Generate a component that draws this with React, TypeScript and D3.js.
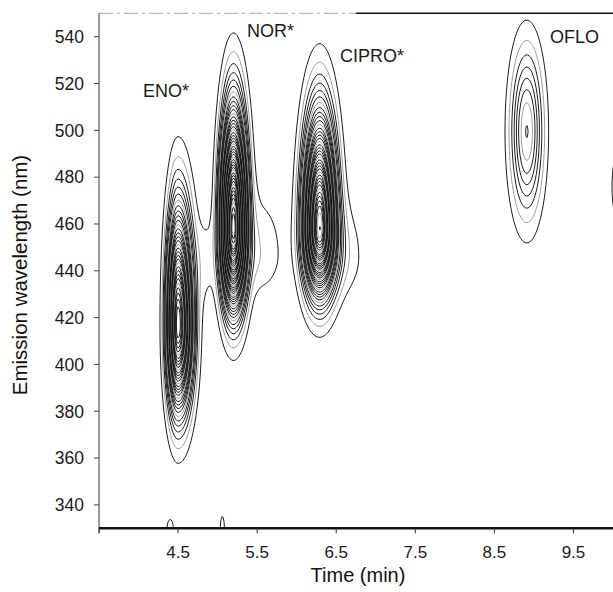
import React, { useEffect, useMemo } from "react";
import * as d3 from "d3";

// peaks: retention time (min), emission wavelength (nm),
// height in contour steps, and the spread on each side of the maximum
const peakNames = ["ENO", "ENO/NOR overlap", "NOR", "NOR shoulder", "CIPRO", "CIPRO shoulder", "OFLO", "next peak", "blip 4.4", "blip 5.1"];
const peakTime = [4.5, 4.85, 5.2, 5.52, 6.29, 6.56, 8.91, 10.15, 4.4, 5.06];
const peakWave = [417, 445, 458, 447, 458, 446, 499.5, 476, 330, 330];
const peakHeight = [32, 1.2, 45, 1.85, 38, 1.85, 8.05, 1.5, 1.3, 1.5];
const sigmaLeft = [0.087, 0.09, 0.098, 0.1, 0.128, 0.1, 0.135, 0.18, 0.053, 0.028];
const sigmaRight = [0.114, 0.09, 0.103, 0.22, 0.128, 0.2, 0.135, 0.18, 0.053, 0.028];
const sigmaUp = [30.5, 14, 30.3, 18, 29.3, 16, 23.3, 22, 5, 5.6];
const sigmaDown = [22.5, 14, 20.4, 12, 17.2, 12, 23.3, 22, 5, 5.6];

const levels = d3.range(1, 46);

const timeTicks = [3.5, 4.5, 5.5, 6.5, 7.5, 8.5, 9.5];
const waveTicks = [340, 360, 380, 400, 420, 440, 460, 480, 500, 520, 540];

const labelText = ["ENO*", "NOR*", "CIPRO*", "OFLO"];
const labelTime = [4.056, 5.371, 6.548, 9.203];
const labelWave = [514.4, 539.7, 529.4, 537.1];

const W = 613;
const H = 592;
const left = 99;
const right = 613;
const top = 13.3;
const bottom = 528.3;

const x = d3.scaleLinear().domain([3.5, 10]).range([left, right]);
const y = d3.scaleLinear().domain([330, 550]).range([bottom, top]);

const field = (t: number, w: number) => {
  let v = 0;
  for (let p = 0; p < peakTime.length; p++) {
    const dt = t - peakTime[p];
    const dw = w - peakWave[p];
    const st = dt < 0 ? sigmaLeft[p] : sigmaRight[p];
    const sw = dw < 0 ? sigmaDown[p] : sigmaUp[p];
    v += peakHeight[p] * Math.exp(-0.5 * ((dt / st) ** 2 + (dw / sw) ** 2));
  }
  return v;
};

export default function App() {
  useEffect(() => {
    document.body.style.margin = "0";
  }, []);

  const paths = useMemo(() => {
    const gx0 = left, gy0 = 13;
    const nx = 522, ny = 516;
    const values = new Float64Array(nx * ny);
    for (let j = 0; j < ny; j++) {
      const w = y.invert(gy0 + j);
      for (let i = 0; i < nx; i++) values[j * nx + i] = field(x.invert(gx0 + i), w);
    }
    const contours = d3.contours().size([nx, ny]).thresholds(levels)(values as any);
    const path = d3.geoPath(d3.geoIdentity().translate([gx0 - 0.5, gy0 - 0.5]) as any);
    return contours.map((c) => ({ level: c.value, d: path(c as any) || "" }));
  }, []);

  const font = "'Liberation Sans', Arial, sans-serif";

  return (
    <svg width={W} height={H} style={{ display: "block", background: "#fff" }} fontFamily={font}>
      <defs>
        <clipPath id="plot">
          <rect x={left} y={top} width={right - left} height={bottom - top} />
        </clipPath>
      </defs>

      <g clipPath="url(#plot)" fill="none">
        {paths.map((p) => (
          <path
            key={p.level}
            d={p.d}
            stroke={p.level % 5 === 2 ? "#a0a0a0" : "#111"}
            strokeWidth={p.level % 5 === 2 ? 1 : 0.95}
          />
        ))}
      </g>

      {/* frame */}
      <line x1={left} x2={356} y1={top} y2={top} stroke="#a5a5a5" strokeWidth={1} strokeDasharray="14 4 3 4" />
      <line x1={356} x2={right} y1={top} y2={top} stroke="#111" strokeWidth={1.6} />
      <line x1={left} x2={left} y1={top} y2={bottom + 5} stroke="#555" strokeWidth={1.2} />
      <line x1={left} x2={right} y1={bottom} y2={bottom} stroke="#111" strokeWidth={2.6} />

      {waveTicks.map((v) => (
        <g key={v} transform={`translate(0,${y(v)})`}>
          <line x1={left - 5} x2={left} stroke="#444" strokeWidth={1} />
          <text x={left - 15} dy="0.36em" textAnchor="end" fontSize={17.5} fill="#1a1a1a">
            {v}
          </text>
        </g>
      ))}

      {timeTicks.map((v) => (
        <g key={v} transform={`translate(${x(v)},0)`}>
          <line y1={bottom} y2={bottom + 5} stroke="#333" strokeWidth={1} />
          {v > 3.5 && (
            <text y={558} textAnchor="middle" fontSize={17} fill="#1a1a1a">
              {v.toFixed(1)}
            </text>
          )}
        </g>
      ))}

      <text x={358} y={582} textAnchor="middle" fontSize={20} fill="#111">
        Time (min)
      </text>
      <text transform="translate(27,275) rotate(-90)" textAnchor="middle" fontSize={20.5} fill="#111">
        Emission wavelength (nm)
      </text>

      {labelText.map((s, i) => (
        <text key={s} x={x(labelTime[i])} y={y(labelWave[i])} fontSize={18} fill="#1a1a1a">
          {s}
        </text>
      ))}
    </svg>
  );
}
